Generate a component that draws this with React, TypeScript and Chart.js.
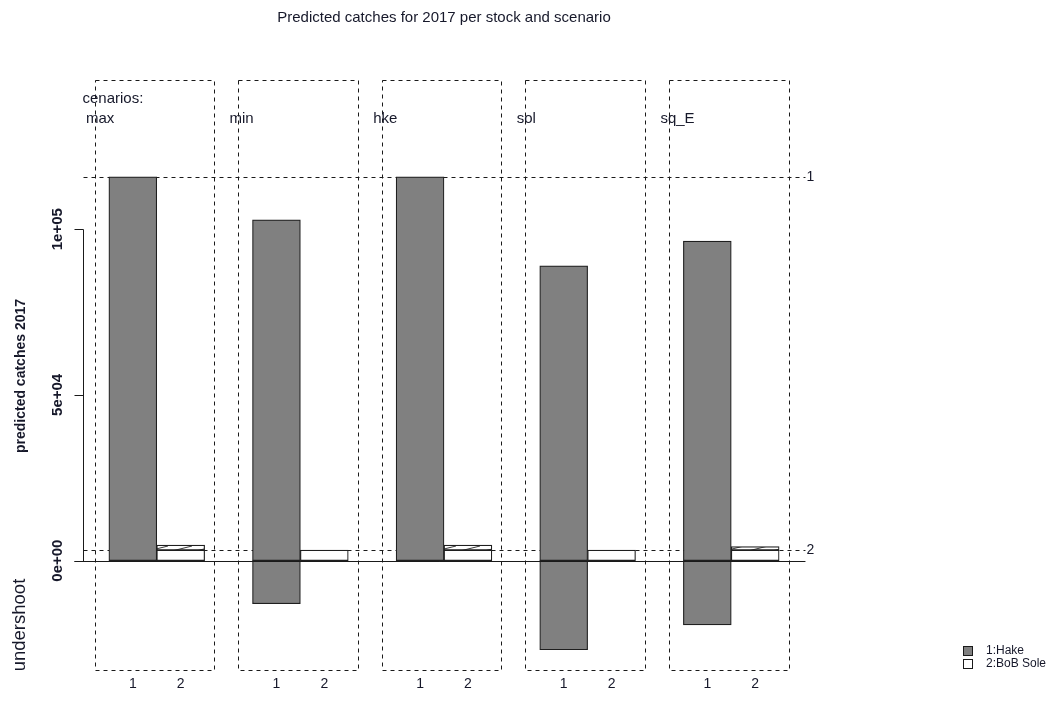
import { useEffect, useRef } from "react";
import { Chart, registerables } from "chart.js";

Chart.register(...registerables);

// Scenarios and stocks
const scenarios = ["max", "min", "hke", "sol", "sq_E"];
const stockTicks = ["1", "2"];
const stockNames = ["1:Hake", "2:BoB Sole"];

// Predicted 2017 catches per scenario (tonnes)
const hakeCatch = [115800, 102800, 115800, 88900, 96400];
const hakeUndershoot = [0, -13000, 0, -26900, -19400];
const soleCatch = [4700, 3150, 4700, 3150, 4200];

// Reference levels for each stock
const hakeTac = 115800;
const soleTac = 3150;

// Left axis ticks
const yTicks = [0, 50000, 100000];

const FONT = "'Liberation Sans', Arial, Helvetica, sans-serif";
const TEXT = "#16182a";
const LINE = "#1a1a1a";

// R-style scientific label, e.g. 1e+05
function sci(v: number): string {
  if (v === 0) return "0e+00";
  const exp = Math.floor(Math.log10(Math.abs(v)));
  const mant = Math.round((v / Math.pow(10, exp)) * 100) / 100;
  const e = Math.abs(exp).toString().padStart(2, "0");
  return `${mant}e${exp < 0 ? "-" : "+"}${e}`;
}

// Slots: [gap, stock1, stock2] per scenario, plus a trailing gap
const slotLabels: string[] = [];
const slotHake: (number | null)[] = [];
const slotHakeUnder: (number | null)[] = [];
const slotSoleBase: (number | null)[] = [];
const slotSoleOver: ([number, number] | null)[] = [];
scenarios.forEach((_, g) => {
  slotLabels.push("", stockTicks[0], stockTicks[1]);
  slotHake.push(null, hakeCatch[g], null);
  slotHakeUnder.push(null, hakeUndershoot[g] < 0 ? hakeUndershoot[g] : null, null);
  slotSoleBase.push(null, null, Math.min(soleCatch[g], soleTac));
  slotSoleOver.push(null, null, soleCatch[g] > soleTac ? [soleTac, soleCatch[g]] : null);
});
slotLabels.push("");
slotHake.push(null);
slotHakeUnder.push(null);
slotSoleBase.push(null);
slotSoleOver.push(null);

function hatchPattern(): CanvasPattern | string {
  const c = document.createElement("canvas");
  c.width = 24;
  c.height = 6;
  const g = c.getContext("2d");
  if (!g) return "#ffffff";
  g.fillStyle = "#ffffff";
  g.fillRect(0, 0, 24, 6);
  g.strokeStyle = "#222222";
  g.lineWidth = 0.9;
  g.beginPath();
  g.moveTo(0, 6);
  g.lineTo(24, 0);
  g.stroke();
  const p = g.createPattern(c, "repeat");
  return p || "#ffffff";
}

const overlay = {
  id: "rDecor",
  beforeDatasetsDraw(chart: any) {
    const { ctx, chartArea, scales } = chart;
    const x = scales.x;
    const y = scales.y;
    const step = x.getPixelForValue(1) - x.getPixelForValue(0);
    const ux = (u: number) => x.getPixelForValue(0) + (u - 0.5) * step;
    const axisX = Math.round(ux(0.45)) + 0.5;
    const lineEnd = ux(15.55);

    ctx.save();
    ctx.strokeStyle = LINE;
    ctx.lineWidth = 1;
    ctx.setLineDash([4, 4]);
    // dashed box around each scenario
    scenarios.forEach((_, g) => {
      const l = Math.round(ux(3 * g + 0.7)) + 0.5;
      const r = Math.round(ux(3 * g + 3.2)) + 0.5;
      ctx.strokeRect(l, chartArea.top + 0.5, r - l, chartArea.bottom - chartArea.top);
    });
    // reference levels
    [hakeTac, soleTac].forEach((v) => {
      const py = Math.round(y.getPixelForValue(v)) + 0.5;
      ctx.beginPath();
      ctx.moveTo(axisX, py);
      ctx.lineTo(lineEnd, py);
      ctx.stroke();
    });
    ctx.restore();
  },
  afterDatasetsDraw(chart: any) {
    const { ctx, scales } = chart;
    const x = scales.x;
    const y = scales.y;
    const step = x.getPixelForValue(1) - x.getPixelForValue(0);
    const ux = (u: number) => x.getPixelForValue(0) + (u - 0.5) * step;
    const axisX = Math.round(ux(0.45)) + 0.5;
    const lineEnd = ux(15.55);
    const tickLen = 9;
    const y0 = Math.round(y.getPixelForValue(0)) + 0.5;

    ctx.save();
    ctx.strokeStyle = LINE;
    ctx.lineWidth = 1;
    ctx.setLineDash([]);
    // zero line
    ctx.beginPath();
    ctx.moveTo(axisX - tickLen, y0);
    ctx.lineTo(lineEnd, y0);
    ctx.stroke();
    // left axis
    const yTop = Math.round(y.getPixelForValue(yTicks[yTicks.length - 1])) + 0.5;
    ctx.beginPath();
    ctx.moveTo(axisX, y0);
    ctx.lineTo(axisX, yTop);
    yTicks.forEach((v) => {
      const py = Math.round(y.getPixelForValue(v)) + 0.5;
      ctx.moveTo(axisX - tickLen, py);
      ctx.lineTo(axisX, py);
    });
    ctx.stroke();

    ctx.fillStyle = TEXT;
    // rotated tick labels
    ctx.font = `bold 15px ${FONT}`;
    ctx.textAlign = "center";
    ctx.textBaseline = "alphabetic";
    yTicks.forEach((v) => {
      const py = y.getPixelForValue(v);
      ctx.save();
      ctx.translate(62, py);
      ctx.rotate(-Math.PI / 2);
      ctx.fillText(sci(v), 0, 0);
      ctx.restore();
    });
    // axis titles
    ctx.save();
    ctx.translate(25, 376);
    ctx.rotate(-Math.PI / 2);
    ctx.font = `bold 14px ${FONT}`;
    ctx.fillText("predicted catches 2017", 0, 0);
    ctx.restore();
    ctx.save();
    ctx.translate(25, 625);
    ctx.rotate(-Math.PI / 2);
    ctx.font = `18.5px ${FONT}`;
    ctx.fillText("undershoot", 0, 0);
    ctx.restore();

    // stock ticks under bars
    ctx.font = `14px ${FONT}`;
    ctx.textAlign = "center";
    slotLabels.forEach((lab, i) => {
      if (!lab) return;
      ctx.fillText(lab, x.getPixelForValue(i), 688);
    });

    // reference level labels
    ctx.textAlign = "left";
    ctx.textBaseline = "middle";
    ctx.fillText("1", lineEnd + 1, y.getPixelForValue(hakeTac));
    ctx.fillText("2", lineEnd + 1, y.getPixelForValue(soleTac));

    // scenario names
    ctx.font = `15px ${FONT}`;
    ctx.textBaseline = "alphabetic";
    ctx.fillText("cenarios:", axisX - 1, 103);
    scenarios.forEach((s, g) => {
      ctx.fillText(s, ux(3 * g + 0.52), 123);
    });

    // title
    ctx.textAlign = "center";
    ctx.fillText("Predicted catches for 2017 per stock and scenario", 444, 22);

    // stock legend
    const fills = ["#808080", "#ffffff"];
    ctx.font = `12px ${FONT}`;
    ctx.textAlign = "left";
    ctx.textBaseline = "middle";
    stockNames.forEach((name, i) => {
      const cy = 651 + i * 13;
      ctx.fillStyle = fills[i];
      ctx.fillRect(963.5, cy - 4.5, 9, 9);
      ctx.strokeStyle = LINE;
      ctx.strokeRect(963.5, cy - 4.5, 9, 9);
      ctx.fillStyle = TEXT;
      ctx.fillText(name, 986, cy);
    });
    ctx.restore();
  },
};

export default function App() {
  const ref = useRef<HTMLCanvasElement | null>(null);

  useEffect(() => {
    if (!ref.current) return;
    const common = {
      grouped: false,
      barPercentage: 1,
      categoryPercentage: 1,
      borderWidth: 1.2,
      borderColor: "#1f1f1f",
      borderSkipped: false,
    };
    const chart = new Chart(ref.current, {
      type: "bar",
      data: {
        labels: slotLabels,
        datasets: [
          { ...common, label: "hake", data: slotHake, backgroundColor: "#808080" },
          { ...common, label: "hake undershoot", data: slotHakeUnder, backgroundColor: "#808080" },
          { ...common, label: "sole", data: slotSoleBase, backgroundColor: "#ffffff" },
          { ...common, label: "sole overshoot", data: slotSoleOver as any, backgroundColor: hatchPattern() as any },
        ],
      } as any,
      options: {
        animation: false,
        responsive: false,
        devicePixelRatio: 1,
        layout: { padding: { left: 61, right: 229, top: 80, bottom: 32 } },
        scales: {
          x: { type: "category", display: false, offset: true },
          y: { type: "linear", display: false, min: -33000, max: 145000 },
        },
        plugins: { legend: { display: false }, tooltip: { enabled: false }, title: { display: false } },
      } as any,
      plugins: [overlay],
    });
    return () => chart.destroy();
  }, []);

  return (
    <div style={{ position: "fixed", left: 0, top: 0, width: 1056, height: 702, background: "#ffffff" }}>
      <canvas ref={ref} width={1056} height={702} style={{ display: "block" }} />
    </div>
  );
}
